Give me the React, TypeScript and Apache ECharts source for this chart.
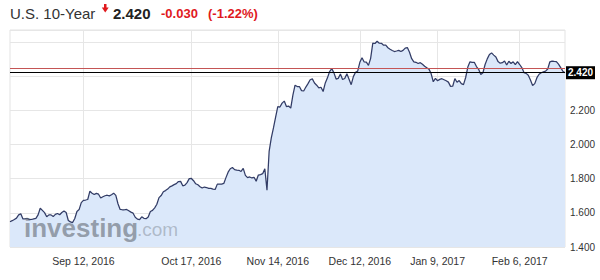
import React, { useEffect, useRef } from "react";
import * as echarts from "echarts";

const FONT = "'Liberation Sans', Arial, Helvetica, sans-serif";

const title = "U.S. 10-Year";
const lastValue = 2.42;
const change = -0.03;
const prevClose = lastValue - change;
const changePct = (change / prevClose) * 100;

const startDate = "2016-08-17";
const endDate = "2017-02-21";
const holidays = ["2016-09-05", "2016-11-24", "2016-12-26", "2017-01-02", "2017-01-16", "2017-02-20"];
const sessions = ["00:00", "12:00"];
const tickDates = ["2016-09-12", "2016-10-17", "2016-11-14", "2016-12-12", "2017-01-09", "2017-02-06"];
const monthNames = ["Jan", "Feb", "Mar", "Apr", "May", "Jun", "Jul", "Aug", "Sep", "Oct", "Nov", "Dec"];

const yieldsAugSep = [
  1.548, 1.554, 1.561, 1.569, 1.588, 1.594, 1.564, 1.564, 1.567, 1.56, 1.561, 1.565, 1.568, 1.588, 1.627, 1.614,
  1.601, 1.577, 1.588, 1.588, 1.578, 1.591, 1.596, 1.589, 1.602, 1.611, 1.602, 1.555, 1.547, 1.543, 1.567, 1.608,
  1.619, 1.66, 1.673, 1.675, 1.678, 1.727, 1.715, 1.707, 1.714, 1.709, 1.687, 1.694, 1.7, 1.703, 1.699, 1.706,
  1.715, 1.702, 1.653, 1.62, 1.618, 1.618, 1.62, 1.612, 1.604, 1.598, 1.574, 1.563, 1.56, 1.577, 1.568, 1.566,
];
const yieldsOctNov = [
  1.576, 1.608, 1.614, 1.629, 1.65, 1.689, 1.701, 1.723, 1.73, 1.739, 1.752, 1.758, 1.765, 1.771, 1.783, 1.784,
  1.758, 1.762, 1.777, 1.8, 1.801, 1.788, 1.77, 1.764, 1.753, 1.745, 1.751, 1.748, 1.743, 1.743, 1.739, 1.737,
  1.768, 1.768, 1.768, 1.772, 1.806, 1.838, 1.858, 1.865, 1.853, 1.85, 1.849, 1.842, 1.86, 1.819, 1.806, 1.81,
  1.804, 1.808, 1.785, 1.821, 1.824, 1.829, 1.858, 1.733, 1.96, 2.039, 2.097, 2.16, 2.222, 2.219, 2.242, 2.254,
  2.222, 2.225, 2.213, 2.289, 2.347, 2.339, 2.339, 2.315, 2.313, 2.336, 2.356, 2.379, 2.384, 2.36, 2.347, 2.331,
  2.335, 2.31, 2.36, 2.39, 2.427, 2.444, 2.419, 2.383, 2.387, 2.412, 2.38, 2.386, 2.414, 2.382, 2.35, 2.397,
];
const yieldsDecJan = [
  2.423, 2.429, 2.481, 2.508, 2.483, 2.482, 2.463, 2.504, 2.593, 2.591, 2.604, 2.593, 2.592, 2.581, 2.581, 2.566,
  2.557, 2.55, 2.544, 2.547, 2.551, 2.544, 2.551, 2.564, 2.567, 2.54, 2.502, 2.484, 2.481, 2.474, 2.479, 2.47,
  2.458, 2.449, 2.441, 2.415, 2.367, 2.387, 2.373, 2.381, 2.385, 2.379, 2.373, 2.365, 2.34, 2.341, 2.385, 2.364,
  2.374, 2.356, 2.35, 2.392, 2.453, 2.484, 2.481, 2.481, 2.456, 2.44, 2.41, 2.42, 2.468, 2.501, 2.527, 2.536,
];
const yieldsFeb = [
  2.523, 2.512, 2.485, 2.476, 2.479, 2.489, 2.465, 2.487, 2.474, 2.484, 2.467, 2.485, 2.468, 2.45, 2.421, 2.416,
  2.405, 2.377, 2.345, 2.356, 2.391, 2.411, 2.42, 2.425, 2.429, 2.442, 2.484, 2.488, 2.486, 2.485, 2.47, 2.45,
  2.429, 2.42,
];
const yields = [...yieldsAugSep, ...yieldsOctNov, ...yieldsDecJan, ...yieldsFeb];

function tradingDays(): string[] {
  const out: string[] = [];
  const d = new Date(startDate + "T00:00:00Z");
  const end = new Date(endDate + "T00:00:00Z");
  while (d <= end) {
    const wd = d.getUTCDay();
    const s = d.toISOString().slice(0, 10);
    if (wd !== 0 && wd !== 6 && !holidays.includes(s)) out.push(s);
    d.setUTCDate(d.getUTCDate() + 1);
  }
  return out;
}

const categories = tradingDays().flatMap((d) => sessions.map((s) => `${d} ${s}`));

function fmtDate(c: string): string {
  const [y, m, d] = c.slice(0, 10).split("-");
  return `${monthNames[Number(m) - 1]} ${Number(d)}, ${y}`;
}

const isTick = (_i: number, v: string) => tickDates.includes(String(v).slice(0, 10)) && String(v).endsWith(sessions[0]);

export default function App() {
  const ref = useRef<HTMLDivElement>(null);
  useEffect(() => {
    if (!ref.current) return;
    const chart = echarts.init(ref.current, null, { renderer: "svg" });
    const red = "#e0191d";
    const graphics: any[] = [
      {
        id: "title",
        type: "text",
        x: 10,
        y: 13,
        style: { text: title, fontSize: 15, fontFamily: FONT, fill: "#333", verticalAlign: "middle" },
      },
      {
        id: "arrowStem",
        type: "rect",
        shape: { x: 104, y: 4, width: 2.5, height: 4 },
        style: { fill: red },
      },
      {
        id: "arrowHead",
        type: "polygon",
        shape: { points: [[101.8, 7.5], [108.7, 7.5], [105.25, 12.5]] },
        style: { fill: red },
      },
      {
        id: "last",
        type: "text",
        x: 113,
        y: 13,
        style: {
          text: lastValue.toFixed(3),
          fontSize: 15,
          fontWeight: "bold",
          fontFamily: FONT,
          fill: "#222",
          verticalAlign: "middle",
        },
      },
      {
        id: "chg",
        type: "text",
        x: 161,
        y: 13,
        style: {
          text: change.toFixed(3),
          fontSize: 13,
          fontWeight: "bold",
          fontFamily: FONT,
          fill: red,
          verticalAlign: "middle",
        },
      },
      {
        id: "pct",
        type: "text",
        x: 208,
        y: 13,
        style: {
          text: `(${changePct.toFixed(2)}%)`,
          fontSize: 13,
          fontWeight: "bold",
          fontFamily: FONT,
          fill: red,
          verticalAlign: "middle",
        },
      },
      {
        id: "wm1",
        type: "text",
        x: 24,
        y: 241,
        z: 100,
        style: {
          text: "investing",
          fontSize: 26,
          fontWeight: "bold",
          fontFamily: FONT,
          fill: "rgba(100,106,116,0.6)",
          verticalAlign: "bottom",
        },
      },
      {
        id: "wm2",
        type: "text",
        x: 137,
        y: 239,
        z: 100,
        style: {
          text: ".com",
          fontSize: 19,
          fontFamily: FONT,
          fill: "rgba(120,128,138,0.45)",
          verticalAlign: "bottom",
        },
      },
    ];
    const option: any = {
      animation: false,
      grid: {
        left: 10,
        right: 35,
        top: 30,
        bottom: 33,
        show: true,
        borderColor: "#e3e3e3",
        borderWidth: 1,
      },
      xAxis: {
        type: "category",
        data: categories,
        boundaryGap: false,
        axisLine: { show: false },
        axisTick: { show: false },
        axisLabel: {
          interval: isTick,
          formatter: fmtDate,
          color: "#333",
          fontSize: 10.5,
          fontFamily: FONT,
          margin: 8,
        },
        splitLine: { show: true, interval: isTick, lineStyle: { color: "#e6e6e6", width: 1 } },
      },
      yAxis: {
        type: "value",
        position: "right",
        min: 1.4,
        max: 2.67,
        interval: 0.2,
        axisLine: { show: false },
        axisTick: { show: false },
        axisLabel: {
          formatter: (v: number) => (v > 2.3 ? "" : v.toFixed(3)),
          color: "#333",
          fontSize: 10,
          fontFamily: FONT,
          margin: 5,
        },
        splitLine: { lineStyle: { color: "#e6e6e6", width: 1 } },
      },
      series: [
        {
          type: "line",
          data: yields,
          symbol: "none",
          showSymbol: false,
          z: 2,
          lineStyle: { color: "#323c66", width: 1.25 },
          areaStyle: { color: "#dbe8fa", opacity: 1, origin: "start" },
          markLine: {
            silent: true,
            symbol: ["none", "none"],
            animation: false,
            label: { show: false },
            lineStyle: { color: "#000", width: 1, type: "solid" },
            data: [
              {
                yAxis: lastValue,
                label: {
                  show: true,
                  position: "end",
                  distance: 1,
                  formatter: lastValue.toFixed(3),
                  backgroundColor: "#000",
                  color: "#fff",
                  fontSize: 10,
                  fontWeight: "bold",
                  fontFamily: FONT,
                  padding: [2, 2, 1, 2],
                },
              },
            ],
          },
        },
      ],
      graphic: graphics,
    };
    chart.setOption(option);
    const x0 = chart.convertToPixel({ xAxisIndex: 0 }, categories[0]) as number;
    const x1 = chart.convertToPixel({ xAxisIndex: 0 }, categories[categories.length - 1]) as number;
    const yPrev = Math.round(chart.convertToPixel({ yAxisIndex: 0 }, prevClose) as number) + 0.5;
    chart.setOption({
      graphic: [
        ...graphics,
        {
          id: "prevCloseLine",
          type: "line",
          z: 50,
          shape: { x1: x0, y1: yPrev, x2: x1, y2: yPrev },
          style: { stroke: "#c45555", lineWidth: 1.2 },
        },
      ],
    });
    return () => chart.dispose();
  }, []);
  return (
    <div
      ref={ref}
      style={{ position: "fixed", left: 0, top: 0, width: 600, height: 280, background: "#fff" }}
    />
  );
}
